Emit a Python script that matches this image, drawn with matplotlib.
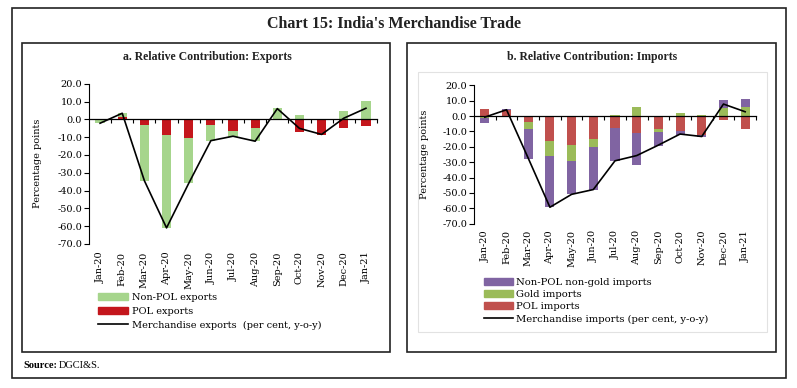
import numpy as np
import matplotlib
matplotlib.use("Agg")
import matplotlib.pyplot as plt
from matplotlib.patches import Rectangle, Patch
from matplotlib.lines import Line2D

plt.rcParams['axes.unicode_minus'] = False
plt.rcParams['font.family'] = ['DejaVu Serif']

# data
months = ["Jan-20", "Feb-20", "Mar-20", "Apr-20", "May-20", "Jun-20", "Jul-20",
          "Aug-20", "Sep-20", "Oct-20", "Nov-20", "Dec-20", "Jan-21"]

# a. exports (percentage points)
exp_pol = [0.0, 1.1, -3.4, -8.8, -10.7, -3.0, -6.5, -4.7, 0.2, -7.0, -8.7, -4.7, -3.7]
exp_nonpol = [-2.2, 2.3, -31.0, -52.4, -25.3, -9.0, -3.2, -7.3, 6.0, 2.4, 0.2, 4.9, 10.3]
exp_total = [-2.2, 3.4, -34.5, -61.0, -36.0, -12.0, -9.5, -12.3, 6.0, -5.1, -8.5, 0.6, 6.2]

# b. imports (percentage points)
imp_pol = [4.6, 3.9, -3.9, -16.1, -18.9, -14.8, -7.8, -11.1, -8.5, -9.6, -12.6, -2.6, -8.7]
imp_gold = [-1.5, 0.0, -4.6, -9.6, -10.4, -5.4, 0.6, 6.1, -1.7, 1.7, 0.5, 5.4, 6.1]
imp_nonpol = [-3.3, 0.7, -19.3, -33.6, -21.6, -27.6, -21.2, -20.7, -9.0, -3.0, -0.8, 5.0, 5.0]
imp_total = [-0.7, 4.1, -27.4, -59.3, -50.9, -47.8, -29.1, -25.7, -18.9, -11.7, -13.3, 7.8, 2.8]

yticks = np.arange(-70, 21, 10)

fig = plt.figure(figsize=(7.97, 3.88), dpi=100)
W, H = 797.0, 388.0


def box(x0, y0, x1, y1, **kw):
    fig.add_artist(Rectangle((x0 / W, 1 - y1 / H), (x1 - x0) / W, (y1 - y0) / H,
                             transform=fig.transFigure, fill=False, **kw))


# frames
box(12, 8, 786, 378, lw=1.2, edgecolor='#222222')
box(22, 43, 390, 352, lw=1.2, edgecolor='#222222')
box(407, 43, 776, 352, lw=1.2, edgecolor='#222222')
box(418, 72, 767, 332, lw=0.8, edgecolor='#e2e2e2')

fig.text(394 / W, 1 - 24 / H, "Chart 15: India's Merchandise Trade", ha='center', va='center',
         family='Liberation Serif', fontweight='bold', fontsize=11.5, color='#222222')
fig.text(207 / W, 1 - 57 / H, "a. Relative Contribution: Exports", ha='center', va='center',
         family='Liberation Serif', fontweight='bold', fontsize=8.5, color='#222222')
fig.text(592 / W, 1 - 57 / H, "b. Relative Contribution: Imports", ha='center', va='center',
         family='Liberation Serif', fontweight='bold', fontsize=8.5, color='#222222')
fig.text(23 / W, 1 - 365 / H, "Source:", ha='left', va='center',
         family='Liberation Serif', fontweight='bold', fontsize=7.5)
fig.text(59 / W, 1 - 365 / H, "DGCI&S.", ha='left', va='center',
         family='Liberation Serif', fontsize=7.5)


def stack(ax, series, colors, width=0.42):
    pos = np.zeros(len(months))
    neg = np.zeros(len(months))
    x = np.arange(len(months))
    for vals, c in zip(series, colors):
        v = np.array(vals)
        bottom = np.where(v >= 0, pos, neg)
        ax.bar(x, v, width=width, bottom=bottom, color=c, zorder=2)
        pos = pos + np.where(v >= 0, v, 0)
        neg = neg + np.where(v < 0, v, 0)


def style(ax, pad):
    x = np.arange(len(months))
    ax.set_xlim(-0.5, len(months) - 0.5)
    ax.set_ylim(-70, 20)
    ax.set_yticks(yticks)
    ax.set_yticklabels([f"{v:.1f}" for v in yticks], fontsize=7)
    ax.tick_params(axis='y', length=3.5, width=0.8, pad=1.5)
    for s in ['top', 'right']:
        ax.spines[s].set_visible(False)
    ax.spines['left'].set_linewidth(0.8)
    ax.spines['bottom'].set_position(('data', 0))
    ax.spines['bottom'].set_linewidth(0.9)
    ax.set_xticks(x[:-1] + 0.5)
    ax.set_xticks([len(months) - 0.5], minor=True)
    ax.set_xticklabels([])
    ax.tick_params(axis='x', which='both', length=3, width=0.8, direction='out')
    sec = ax.secondary_xaxis('bottom')
    sec.set_xticks(x)
    sec.set_xticklabels(months, rotation=90, fontsize=7)
    sec.tick_params(length=0, pad=pad)
    sec.spines['bottom'].set_visible(False)
    ax.set_ylabel("Percentage points", fontsize=7)


# a. exports
ax1 = fig.add_axes([89 / W, 1 - 243.9 / H, 288 / W, 160.2 / H])
stack(ax1, [exp_pol, exp_nonpol], ['#c4161c', '#a6d58c'])
ax1.plot(np.arange(len(months)), exp_total, color='black', lw=1.2, zorder=3)
style(ax1, 5.5)
ax1.yaxis.set_label_coords(-0.163, 0.5)

h1 = [Patch(color='#a6d58c'), Patch(color='#c4161c'), Line2D([], [], color='black', lw=1.2)]
fig.legend(h1, ["Non-POL exports", "POL exports", "Merchandise exports  (per cent, y-o-y)"],
           loc='upper left', bbox_to_anchor=(98 / W, 1 - 293 / H), frameon=False,
           fontsize=7, handlelength=3.1, handletextpad=0.35, labelspacing=0.5,
           borderpad=0, borderaxespad=0)

# b. imports
ax2 = fig.add_axes([474 / W, 1 - 223.7 / H, 282 / W, 138.4 / H])
stack(ax2, [imp_pol, imp_gold, imp_nonpol], ['#c0504d', '#9bbb59', '#8064a2'])
ax2.plot(np.arange(len(months)), imp_total, color='black', lw=1.2, zorder=3)
style(ax2, 4.5)
ax2.yaxis.set_label_coords(-0.16, 0.5)

h2 = [Patch(color='#8064a2'), Patch(color='#9bbb59'), Patch(color='#c0504d'),
      Line2D([], [], color='black', lw=1.2)]
fig.legend(h2, ["Non-POL non-gold imports", "Gold imports", "POL imports",
                "Merchandise imports (per cent, y-o-y)"],
           loc='upper left', bbox_to_anchor=(484 / W, 1 - 278 / H), frameon=False,
           fontsize=7.2, handlelength=2.9, handletextpad=0.35, labelspacing=0.32,
           borderpad=0, borderaxespad=0)

fig.savefig("out.png", dpi=100)
